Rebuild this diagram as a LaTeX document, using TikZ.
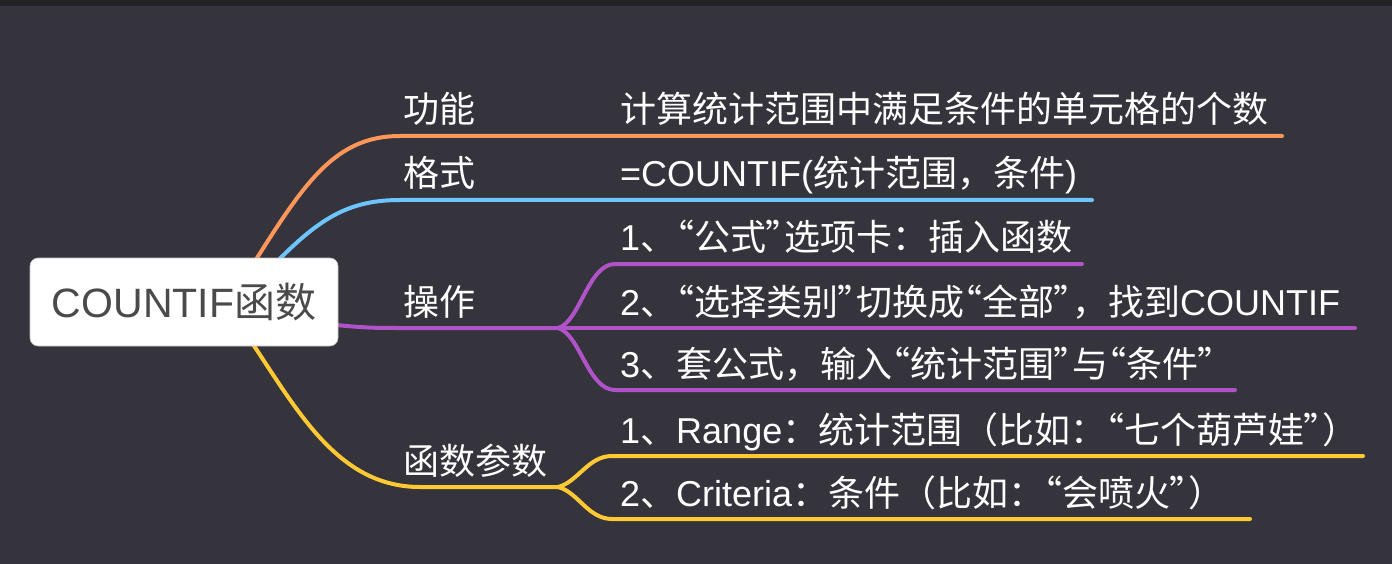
\documentclass[tikz,border=0pt]{standalone}
\usepackage{fontspec}
\setmainfont{Liberation Sans}
\newfontfamily\cjk{Noto Sans CJK SC}
\newfontfamily\cjkq[RawFeature=+palt]{Noto Sans CJK SC}
\newcommand\zh[1]{{\cjk #1}}
\newcommand\qo{{\cjkq “}}
\newcommand\qc{{\cjkq ”}}
\definecolor{bg}{HTML}{35333C}
\definecolor{topband}{HTML}{232227}
\definecolor{corange}{HTML}{FF975A}
\definecolor{cblue}{HTML}{6CC5FF}
\definecolor{cpurple}{HTML}{B052C8}
\definecolor{cyellow}{HTML}{FFC933}
\definecolor{rootgray}{HTML}{4A4A4A}
\begin{document}
\begin{tikzpicture}[x=1pt,y=-1pt,
  br/.style={line width=4pt,line cap=round},
  txt/.style={anchor=base west,inner sep=0pt,text=white,font=\fontsize{36}{40}\selectfont},
  rootbox/.style={fill=white,draw=gray!50,line width=0.6pt,rounded corners=8pt,
    minimum width=308pt,minimum height=88pt,inner sep=0pt,text=rootgray,
    font=\fontsize{41}{45}\selectfont}]
\fill[bg] (0,0) rectangle (1392,564);
\fill[topband] (0,0) rectangle (1392,6);
\useasboundingbox (0,0) rectangle (1392,564);

% coordinates
\coordinate (so) at (240,285);
\coordinate (sb) at (250,290);
\coordinate (sp) at (300,321);
\coordinate (sy) at (235,318);
\coordinate (o1) at (400,136);  \coordinate (o2) at (1282,136);
\coordinate (b1) at (400,200);  \coordinate (b2) at (1092,200);
\coordinate (p1) at (400,328);  \coordinate (jp) at (558,328);
\coordinate (pt1) at (615,264); \coordinate (pt2) at (1082,264);
\coordinate (pm2) at (1355,328);
\coordinate (pb1) at (615,390); \coordinate (pb2) at (1235,390);
\coordinate (y1) at (420,487);  \coordinate (jy) at (558,487);
\coordinate (yt1) at (612,456); \coordinate (yt2) at (1363,456);
\coordinate (yb1) at (612,519); \coordinate (yb2) at (1250,519);

% connectors
\draw[br,corange] (so) .. controls (300,190) and (330,136) .. (o1) -- (o2);
\draw[br,cblue] (sb) .. controls (310,225) and (340,200) .. (b1) -- (b2);
\draw[br,cpurple] (sp) .. controls (360,328) and (370,328) .. (p1) -- (jp);
\draw[br,cpurple] (jp) .. controls (580,322) and (588,264) .. (pt1) -- (pt2);
\draw[br,cpurple] (jp) -- (pm2);
\draw[br,cpurple] (jp) .. controls (580,334) and (588,390) .. (pb1) -- (pb2);
\draw[br,cyellow] (sy) .. controls (290,395) and (330,487) .. (y1) -- (jy);
\draw[br,cyellow] (jy) .. controls (578,482) and (588,456) .. (yt1) -- (yt2);
\draw[br,cyellow] (jy) .. controls (578,492) and (588,519) .. (yb1) -- (yb2);

% root
\node[rootbox] (root) at (184,302) {COUNTIF\zh{函数}};

% labels
\node[txt] (l1) at (403,123) {\zh{功能}};
\node[txt] (l2) at (403,187) {\zh{格式}};
\node[txt] (l3) at (403,315) {\zh{操作}};
\node[txt] (l4) at (403,474) {\zh{函数参数}};

% leaves
\node[txt] (t1) at (620,123) {\zh{计算统计范围中满足条件的单元格的个数}};
\node[txt] (t2) at (620,187) {=COUNTIF(\zh{统计范围，条件})};
\node[txt] (t3) at (620,251) {1\zh{、}\qo\zh{公式}\qc\zh{选项卡：插入函数}};
\node[txt] (t4) at (620,315) {2\zh{、}\qo\zh{选择类别}\qc\zh{切换成}\qo\zh{全部}\qc\zh{，找到}COUNTIF};
\node[txt] (t5) at (620,377) {3\zh{、套公式，输入}\qo\zh{统计范围}\qc\zh{与}\qo\zh{条件}\qc};
\node[txt] (t6) at (620,443) {1\zh{、}Range\zh{：统计范围（比如：}\qo\zh{七个葫芦娃}\qc\zh{）}};
\node[txt] (t7) at (620,506) {2\zh{、}Criteria\zh{：条件（比如：}\qo\zh{会喷火}\qc\zh{）}};
\end{tikzpicture}
\end{document}
